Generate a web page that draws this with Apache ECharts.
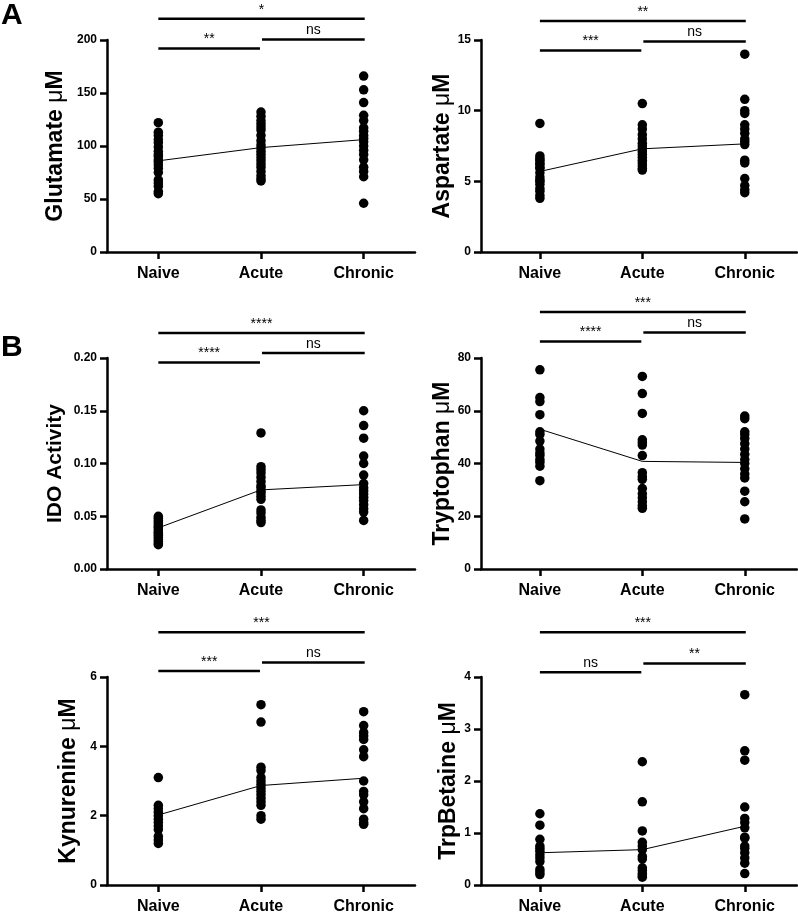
<!DOCTYPE html>
<html>
<head>
<meta charset="utf-8">
<script src="https://cdn.jsdelivr.net/npm/echarts@6/dist/echarts.min.js"></script>
<style>
html, body { margin: 0; background: #fff; }
#main { width: 798px; height: 915px; }
</style>
</head>
<body>
<div id="main"></div>
<script>
var groups = ['Naive', 'Acute', 'Chronic'];

// each panel: [Naive, Acute, Chronic] point values
var glutamate = [
    [122, 113, 110, 106, 103, 99, 95, 92, 90, 87, 85, 82, 79, 75, 68, 65, 62, 57, 55],
    [132, 128, 124, 121, 118, 115, 110, 105, 101, 98, 95, 92, 89, 86, 83, 80, 76, 72, 69, 67],
    [166, 153, 141, 129, 124, 117, 114, 110, 107, 104, 100, 96, 92, 87, 80, 76, 71, 46]
];
var glutamateMean = [86, 98.5, 106];

var aspartate = [
    [9.1, 6.8, 6.6, 6.5, 6.3, 6.2, 5.9, 5.6, 5.3, 5.1, 4.8, 4.5, 4.3, 4.0, 3.8, 5.0, 6.0],
    [10.5, 9.0, 8.7, 8.3, 8.0, 7.7, 7.5, 7.3, 7.1, 6.9, 6.7, 6.5, 6.3, 6.1, 5.9, 5.8],
    [14.0, 10.8, 10.0, 9.8, 9.0, 8.7, 8.4, 8.0, 7.8, 7.6, 6.5, 6.3, 5.2, 4.7, 4.4, 4.2]
];
var aspartateMean = [5.7, 7.3, 7.65];

var idoActivity = [
    [0.050, 0.048, 0.046, 0.044, 0.042, 0.040, 0.039, 0.037, 0.035, 0.034, 0.032, 0.030, 0.028, 0.026, 0.024, 0.023],
    [0.129, 0.097, 0.094, 0.091, 0.087, 0.083, 0.079, 0.077, 0.074, 0.072, 0.069, 0.066, 0.056, 0.053, 0.049, 0.046, 0.044],
    [0.150, 0.136, 0.124, 0.107, 0.100, 0.089, 0.081, 0.077, 0.074, 0.071, 0.068, 0.065, 0.061, 0.057, 0.054, 0.046]
];
var idoMean = [0.039, 0.075, 0.080];

var tryptophan = [
    [75.5, 65, 63.5, 58.5, 52, 51, 48.5, 45.5, 44, 43, 41.5, 40.5, 39, 33.5],
    [73, 66.5, 59, 49, 48, 47, 43, 36.5, 35, 34, 30.5, 28.5, 27, 25.5, 24, 23],
    [58, 57, 52, 51, 49.5, 47.5, 45.5, 43.5, 41.5, 40, 38, 36, 34.5, 29.5, 25.5, 19]
];
var tryptophanMean = [53, 40.8, 40.4];

var kynurenine = [
    [3.1, 2.3, 2.2, 2.1, 2.0, 1.9, 1.8, 1.7, 1.6, 1.4, 1.3, 1.2],
    [5.2, 4.7, 3.4, 3.3, 3.1, 3.0, 2.9, 2.8, 2.7, 2.6, 2.5, 2.4, 2.3, 2.0, 1.9],
    [5.0, 4.6, 4.4, 4.3, 4.2, 3.9, 3.7, 3.0, 2.7, 2.6, 2.4, 2.2, 1.9, 1.8, 1.75]
];
var kynurenineMean = [2.02, 2.87, 3.08];

var trpBetaine = [
    [1.37, 1.15, 0.88, 0.75, 0.7, 0.65, 0.58, 0.52, 0.45, 0.3, 0.25, 0.2],
    [2.37, 1.6, 1.04, 0.82, 0.75, 0.68, 0.55, 0.5, 0.33, 0.28, 0.22, 0.18, 0.15],
    [3.66, 2.58, 2.4, 1.5, 1.28, 1.2, 1.1, 0.92, 0.9, 0.75, 0.7, 0.62, 0.52, 0.42, 0.22]
];
var trpBetaineMean = [0.62, 0.68, 1.13];

// significance brackets: [from group, to group, height, label]
var glutamateSig = [[0, 0.99, 192, '**'], [1.01, 2.01, 200.5, 'ns'], [0, 2.01, 220, '*']];
var aspartateSig = [[0, 0.99, 14.25, '***'], [1.01, 2.01, 14.9, 'ns'], [0, 2.01, 16.35, '**']];
var idoSig = [[0, 0.99, 0.1958, '****'], [1.01, 2.01, 0.2047, 'ns'], [0, 2.01, 0.2237, '****']];
var tryptophanSig = [[0, 0.99, 86.3, '****'], [1.01, 2.01, 89.7, 'ns'], [0, 2.01, 97.4, '***']];
var kynurenineSig = [[0, 0.99, 6.17, '***'], [1.01, 2.01, 6.42, 'ns'], [0, 2.01, 7.29, '***']];
var trpBetaineSig = [[0, 0.99, 4.09, 'ns'], [1.01, 2.01, 4.26, '**'], [0, 2.01, 4.86, '***']];

var FONT = '"Liberation Sans", Arial, sans-serif';

var panels = [
    {pts: glutamate, mean: glutamateMean, sig: glutamateSig, label: 'Glutamate ', unit: true, max: 200, interval: 50, dec: 0,
        left: 107, top: 40, width: 308, height: 212, xMin: -0.5, xMax: 2.5, nameGap: 40, nameSize: 23},
    {pts: aspartate, mean: aspartateMean, sig: aspartateSig, label: 'Aspartate ', unit: true, max: 15, interval: 5, dec: 0,
        left: 481, top: 40, width: 316, height: 212, xMin: -0.575, xMax: 2.51, nameGap: 25, nameSize: 23},
    {pts: idoActivity, mean: idoMean, sig: idoSig, label: 'IDO Activity', unit: false, max: 0.2, interval: 0.05, dec: 2,
        left: 107, top: 358, width: 308, height: 211, xMin: -0.5, xMax: 2.5, nameGap: 41, nameSize: 21},
    {pts: tryptophan, mean: tryptophanMean, sig: tryptophanSig, label: 'Tryptophan ', unit: true, max: 80, interval: 20, dec: 0,
        left: 481, top: 358, width: 316, height: 211, xMin: -0.575, xMax: 2.51, nameGap: 25, nameSize: 23},
    {pts: kynurenine, mean: kynurenineMean, sig: kynurenineSig, label: 'Kynurenine ', unit: true, max: 6, interval: 2, dec: 0,
        left: 107, top: 677, width: 308, height: 211, xMin: -0.5, xMax: 2.5, nameGap: 27, nameSize: 23},
    {pts: trpBetaine, mean: trpBetaineMean, sig: trpBetaineSig, label: 'TrpBetaine ', unit: true, max: 4, interval: 1, dec: 0,
        left: 481, top: 677, width: 316, height: 211, xMin: -0.575, xMax: 2.51, nameGap: 19, nameSize: 23}
];

var axisLineStyle = {color: '#000', width: 2.5};
var grid = [], xAxis = [], yAxis = [], series = [];

panels.forEach(function (p, i) {
    grid.push({left: p.left, top: p.top, width: p.width, height: p.height});

    xAxis.push({
        gridIndex: i,
        type: 'value',
        min: p.xMin,
        max: p.xMax,
        splitLine: {show: false},
        axisLine: {show: true, onZero: false, lineStyle: axisLineStyle},
        axisTick: {show: true, customValues: [0, 1, 2], length: 7, lineStyle: axisLineStyle},
        axisLabel: {
            customValues: [0, 1, 2],
            formatter: function (v) { return groups[Math.round(v)]; },
            color: '#000', fontWeight: 'bold', fontSize: 16, fontFamily: FONT, margin: 14
        }
    });

    yAxis.push({
        gridIndex: i,
        type: 'value',
        min: 0,
        max: p.max,
        interval: p.interval,
        name: p.unit ? '{b|' + p.label + '}{u|μ}{b|M}' : '{b|' + p.label + '}',
        nameLocation: 'middle',
        nameGap: p.nameGap,
        nameTextStyle: {
            rich: {
                b: {fontSize: p.nameSize, fontWeight: 'bold', fontFamily: FONT, color: '#000'},
                u: {fontSize: p.nameSize, fontWeight: 'normal', fontFamily: FONT, color: '#000'}
            }
        },
        splitLine: {show: false},
        axisLine: {show: true, onZero: false, lineStyle: axisLineStyle},
        axisTick: {show: true, length: 7, lineStyle: axisLineStyle},
        axisLabel: {
            formatter: function (v) { return v.toFixed(p.dec); },
            color: '#000', fontWeight: 'bold', fontSize: 12, fontFamily: FONT, margin: 10
        }
    });

    series.push({
        type: 'line',
        xAxisIndex: i, yAxisIndex: i,
        data: p.mean.map(function (m, k) { return [k, m]; }),
        symbol: 'none',
        lineStyle: {color: '#000', width: 1},
        z: 1,
        silent: true
    });

    var dots = [];
    p.pts.forEach(function (arr, k) {
        arr.forEach(function (v) { dots.push([k, v]); });
    });
    series.push({
        type: 'scatter',
        xAxisIndex: i, yAxisIndex: i,
        data: dots,
        symbolSize: 9.5,
        itemStyle: {color: '#000', opacity: 1},
        z: 2
    });

    series.push({
        type: 'custom',
        xAxisIndex: i, yAxisIndex: i,
        clip: false,
        silent: true,
        z: 3,
        data: p.sig.map(function (s) { return [s[0], s[1], s[2]]; }),
        encode: {x: [0, 1], y: 2},
        renderItem: function (params, api) {
            var a = api.coord([api.value(0), api.value(2)]);
            var b = api.coord([api.value(1), api.value(2)]);
            return {
                type: 'group',
                children: [
                    {type: 'line', shape: {x1: a[0], y1: a[1], x2: b[0], y2: b[1]},
                        style: {stroke: '#000', lineWidth: 2.5}},
                    {type: 'text', x: (a[0] + b[0]) / 2, y: a[1] - 2,
                        style: {text: p.sig[params.dataIndex][3], align: 'center', verticalAlign: 'bottom',
                            fontSize: 14, fontFamily: FONT, fill: '#000'}}
                ]
            };
        }
    });
});

var myChart = echarts.init(document.getElementById('main'));
myChart.setOption({
    backgroundColor: '#fff',
    animation: false,
    grid: grid,
    xAxis: xAxis,
    yAxis: yAxis,
    series: series,
    graphic: [
        {type: 'text', left: 1, top: 1, style: {text: 'A', fontSize: 30, fontWeight: 'bold', fontFamily: FONT, fill: '#000'}},
        {type: 'text', left: 1, top: 333, style: {text: 'B', fontSize: 30, fontWeight: 'bold', fontFamily: FONT, fill: '#000'}}
    ]
});
</script>
</body>
</html>
